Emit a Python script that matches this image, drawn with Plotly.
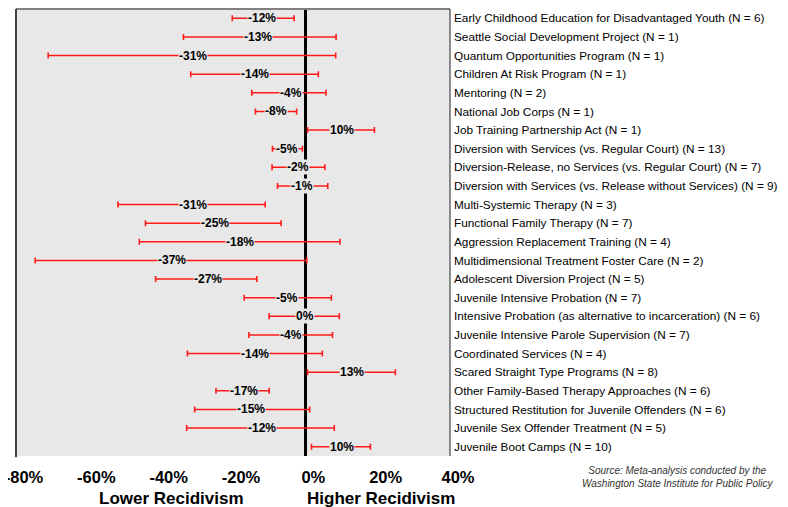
import plotly.graph_objects as go

programs = [
    "Early Childhood Education for Disadvantaged Youth (N = 6)",
    "Seattle Social Development Project (N = 1)",
    "Quantum Opportunities Program (N = 1)",
    "Children At Risk Program (N = 1)",
    "Mentoring (N = 2)",
    "National Job Corps (N = 1)",
    "Job Training Partnership Act (N = 1)",
    "Diversion with Services (vs. Regular Court) (N = 13)",
    "Diversion-Release, no Services (vs. Regular Court) (N = 7)",
    "Diversion with Services (vs. Release without Services) (N = 9)",
    "Multi-Systemic Therapy (N = 3)",
    "Functional Family Therapy (N = 7)",
    "Aggression Replacement Training (N = 4)",
    "Multidimensional Treatment Foster Care (N = 2)",
    "Adolescent Diversion Project (N = 5)",
    "Juvenile Intensive Probation (N = 7)",
    "Intensive Probation (as alternative to incarceration) (N = 6)",
    "Juvenile Intensive Parole Supervision (N = 7)",
    "Coordinated Services (N = 4)",
    "Scared Straight Type Programs (N = 8)",
    "Other Family-Based Therapy Approaches (N = 6)",
    "Structured Restitution for Juvenile Offenders (N = 6)",
    "Juvenile Sex Offender Treatment (N = 5)",
    "Juvenile Boot Camps (N = 10)",
]

effect = [-12, -13, -31, -14, -4, -8, 10, -5, -2, -1, -31, -25, -18, -37, -27,
          -5, 0, -4, -14, 13, -17, -15, -12, 10]
ci_low = [-20.2, -33.7, -71.1, -31.7, -14.8, -13.8, 0.6, -9.1, -9.2, -7.7, -51.8, -44.2,
          -45.9, -74.7, -41.4, -16.9, -10.0, -15.6, -32.6, 0.6, -24.7, -30.6, -32.8, 1.7]
ci_high = [-3.1, 8.5, 8.4, 3.6, 5.7, -2.4, 19.1, -0.8, 5.4, 6.2, -11.1, -6.7,
           9.6, 0.4, -13.4, 7.2, 9.4, 7.5, 4.7, 24.9, -10.0, 1.2, 8.0, 18.0]

x_ticks = [-80, -60, -40, -20, 0, 20, 40]
x_tick_labels = ["-80%", "-60%", "-40%", "-20%", "0%", "20%", "40%"]

plus = [h - m for h, m in zip(ci_high, effect)]
minus = [m - l for m, l in zip(effect, ci_low)]

fig = go.Figure()
fig.add_trace(go.Scatter(
    x=effect, y=programs, mode="markers",
    marker=dict(size=1, color="rgba(0,0,0,0)"),
    error_x=dict(type="data", symmetric=False, array=plus, arrayminus=minus,
                 color="#ff1a1a", thickness=1.6, width=3),
    showlegend=False, hoverinfo="skip",
))

annotations = []
for v, p in zip(effect, programs):
    annotations.append(dict(
        x=v, y=p, xref="x", yref="y", text=f"<b>{v}%</b>", showarrow=False,
        font=dict(family="Arial", size=12, color="black"),
        bgcolor="#e8e8e8", borderpad=0,
    ))

annotations += [
    dict(x=-37, y=0, xref="x", yref="paper", yanchor="middle", yshift=-42,
         text="<b>Lower Recidivism</b>", showarrow=False,
         font=dict(family="Arial", size=17, color="black")),
    dict(x=21, y=0, xref="x", yref="paper", yanchor="middle", yshift=-42,
         text="<b>Higher Recidivism</b>", showarrow=False,
         font=dict(family="Arial", size=17, color="black")),
    dict(x=1, y=0, xref="paper", yref="paper", xanchor="center", yanchor="top",
         xshift=227, yshift=-7, showarrow=False,
         text="<i>Source: Meta-analysis conducted by the<br>Washington State Institute for Public Policy</i>",
         font=dict(family="Arial", size=10, color="#333333"), align="center"),
]

shapes = [
    dict(type="line", xref="paper", yref="paper", x0=0, x1=1, y0=1, y1=1,
         line=dict(color="#808080", width=2)),
    dict(type="line", xref="paper", yref="paper", x0=0, x1=0, y0=-0.003, y1=1,
         line=dict(color="#404040", width=2)),
    dict(type="line", xref="paper", yref="paper", x0=1, x1=1, y0=0, y1=1,
         line=dict(color="#222222", width=1)),
]

fig.update_layout(
    width=780, height=499,
    margin=dict(l=8, r=338, t=1, b=51, autoexpand=False),
    paper_bgcolor="white", plot_bgcolor="#e8e8e8",
    showlegend=False,
    annotations=annotations, shapes=shapes,
    xaxis=dict(range=[-80, 40], tickvals=x_ticks, ticktext=[f"<b>{t}</b>" for t in x_tick_labels],
               tickfont=dict(family="Arial", size=16.5, color="black"),
               showgrid=False, zeroline=True, zerolinecolor="black", zerolinewidth=3,
               ticks="", ticklabelstandoff=9, ticklabelshift=8, fixedrange=True,
               ticklabeloverflow="allow", automargin=False),
    yaxis=dict(categoryorder="array", categoryarray=programs, range=[23.5, -0.5],
               side="right", showgrid=False, zeroline=False, ticks="",
               tickfont=dict(family="Arial", size=11.8, color="black"),
               ticklabelstandoff=3, fixedrange=True, automargin=False),
)

fig.write_html("out.html")
